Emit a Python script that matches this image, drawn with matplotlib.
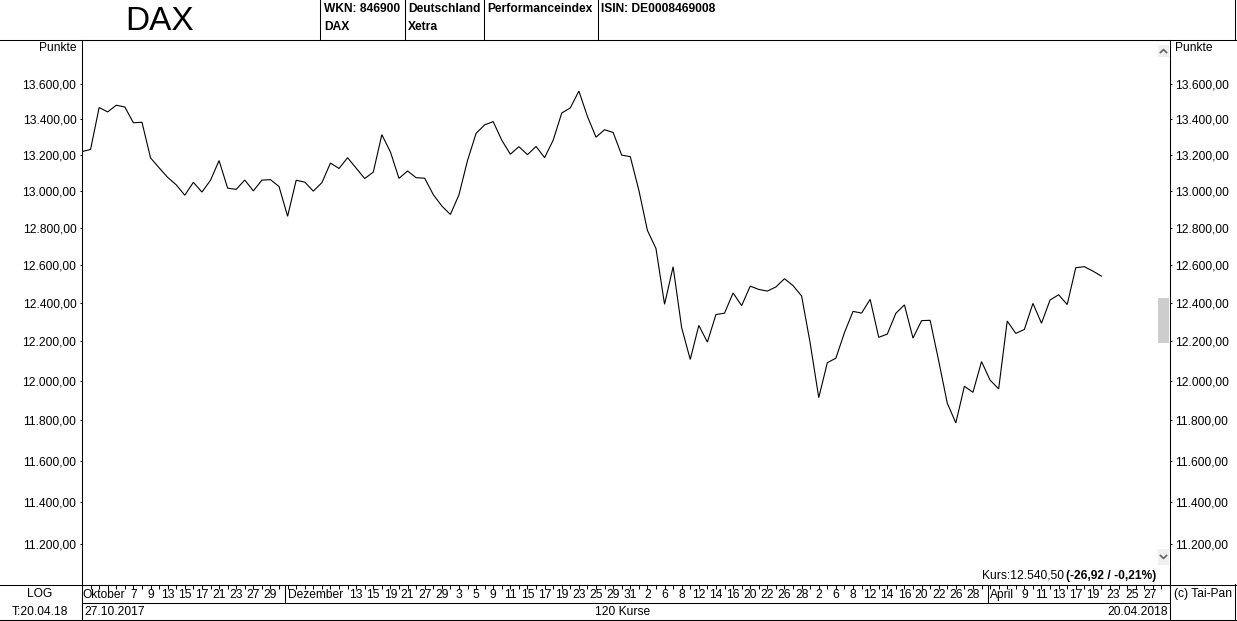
import numpy as np
import pandas as pd
import matplotlib
matplotlib.use("Agg")
import matplotlib.pyplot as plt
from matplotlib.lines import Line2D
from matplotlib.patches import Rectangle
from matplotlib.ticker import FixedLocator, FuncFormatter, NullLocator

plt.rcParams['font.family'] = ['Liberation Sans', 'DejaVu Sans']

# ---------------- data ----------------
first_date = "2017-10-27"
axis_end_date = "2018-04-27"
holidays = ["2017-10-31", "2017-12-25", "2017-12-26", "2018-01-01",
            "2018-03-30", "2018-04-02"]

closes = [
    13217.54, 13229.57, 13465.51, 13440.93, 13478.86, 13468.79, 13379.34, 13382.42,
    13182.56, 13127.47, 13074.42, 13033.48, 12976.37, 13047.22, 12993.73, 13058.66,
    13167.54, 13015.05, 13008.55, 13059.84, 13000.17, 13059.47, 13061.87, 13023.98,
    12861.49, 13058.55, 13048.54, 12998.85, 13045.15, 13153.70, 13123.65, 13183.53,
    13125.64, 13068.08, 13103.56, 13312.30, 13215.79, 13069.17, 13109.74, 13072.79,
    13070.02, 12979.94, 12917.64, 12871.39, 12978.21, 13167.89, 13319.64, 13367.78,
    13385.59, 13281.34, 13202.90, 13245.03, 13200.51, 13246.33, 13183.96, 13281.43,
    13434.45, 13463.69, 13559.60, 13414.74, 13298.36, 13340.17, 13324.48, 13197.71,
    13189.48, 13003.90, 12785.16, 12687.49, 12392.66, 12590.43, 12270.00, 12107.48,
    12282.77, 12196.50, 12339.16, 12346.17, 12451.96, 12385.60, 12487.90, 12470.49,
    12461.91, 12483.79, 12527.04, 12490.73, 12435.85, 12190.94, 11913.71, 12090.87,
    12113.87, 12245.36, 12355.57, 12346.68, 12418.39, 12221.03, 12237.74, 12345.56,
    12389.58, 12217.02, 12307.33, 12309.15, 12100.08, 11886.31, 11787.26, 11970.83,
    11940.71, 12096.73, 12002.26, 11957.90, 12305.36, 12241.27, 12261.75, 12397.32,
    12293.97, 12415.01, 12442.40, 12391.41, 12585.57, 12590.83, 12567.42, 12540.50,
]

y_tick_values = [11200, 11400, 11600, 11800, 12000, 12200, 12400,
                 12600, 12800, 13000, 13200, 13400, 13600]

month_label_dates = ["2017-10-27", "2017-12-01", "2018-04-03"]
month_label_texts = ["Oktober", "Dezember", "April"]

day_label_dates = [
    "2017-11-07", "2017-11-09", "2017-11-13", "2017-11-15", "2017-11-17",
    "2017-11-21", "2017-11-23", "2017-11-27", "2017-11-29",
    "2017-12-13", "2017-12-15", "2017-12-19", "2017-12-21", "2017-12-27", "2017-12-29",
    "2018-01-03", "2018-01-05", "2018-01-09", "2018-01-11", "2018-01-15", "2018-01-17",
    "2018-01-19", "2018-01-23", "2018-01-25", "2018-01-29", "2018-01-31",
    "2018-02-02", "2018-02-06", "2018-02-08", "2018-02-12", "2018-02-14", "2018-02-16",
    "2018-02-20", "2018-02-22", "2018-02-26", "2018-02-28",
    "2018-03-02", "2018-03-06", "2018-03-08", "2018-03-12", "2018-03-14", "2018-03-16",
    "2018-03-20", "2018-03-22", "2018-03-26", "2018-03-28",
    "2018-04-09", "2018-04-11", "2018-04-13", "2018-04-17", "2018-04-19",
]
# future (not yet traded) days shown at the right end of the date axis
future_label_dates = ["2018-04-23", "2018-04-25", "2018-04-27"]
future_label_slots = [120.4, 122.6, 124.7]

title = "DAX"
header_cells = [("WKN: 846900", "DAX"), ("Deutschland", "Xetra"),
                ("Performanceindex", ""), ("ISIN: DE0008469008", "")]
kurs_regular = "Kurs:12.540,50"
kurs_bold = "(-26,92 / -0,21%)"

# ---------------- layout ----------------
W, H, DPI = 1237, 621, 100
fig = plt.figure(figsize=(W / DPI, H / DPI), dpi=DPI, facecolor='white')

def fx(x):
    return x / W

def fy(y):
    return 1 - y / H

PL, PR, PT, PB = 82, 1170, 40, 585
ax = fig.add_axes([fx(PL), fy(PB), fx(PR) - fx(PL), fy(PT) - fy(PB)])

days = pd.bdate_range(first_date, axis_end_date)
days = days[~days.isin(pd.to_datetime(holidays))]
pos = {d.strftime("%Y-%m-%d"): i for i, d in enumerate(days)}

ax.plot(np.arange(len(closes)), closes, color='black', lw=0.8,
        solid_joinstyle='miter')

ax.set_yscale('log')
ax.set_ylim(11008, 13855)
ax.set_xlim(0, 127)

fmt = FuncFormatter(lambda v, p: f"{v:,.2f}".replace(",", "X").replace(".", ",").replace("X", "."))
ax.yaxis.set_major_locator(FixedLocator(y_tick_values))
ax.yaxis.set_major_formatter(fmt)
ax.yaxis.set_minor_locator(NullLocator())
ax.tick_params(axis='y', which='major', direction='out', length=1.5, width=0.75,
               labelsize=8.65, pad=2.5, left=True, right=True,
               labelleft=True, labelright=True, colors='black')

# x axis ticks and labels
xt_pos = ([pos[d] for d in month_label_dates] + [pos[d] for d in day_label_dates]
          + future_label_slots)
xt_lab = (month_label_texts + [str(int(d[-2:])) for d in day_label_dates]
          + [str(int(d[-2:])) for d in future_label_dates])
ax.set_xticks(xt_pos)
ax.set_xticklabels(xt_lab)
ax.xaxis.set_minor_locator(FixedLocator(np.arange(0, 128)))
ax.xaxis.remove_overlapping_locs = False
ax.tick_params(axis='x', which='minor', direction='out', length=3, width=0.75)
ax.tick_params(axis='x', which='major', direction='out', length=0, width=0.75,
               labelsize=8.65, pad=3.2)
for lbl in ax.get_xticklabels():
    if lbl.get_text() in month_label_texts:
        lbl.set_ha('left')

for s in ax.spines.values():
    s.set_linewidth(0.75)

# month separators in the date band
band_depth = (603 - PB) / (PB - PT)
sep_x = [pos[d] - 0.3 for d in month_label_dates[1:]]
ax.vlines(sep_x, -band_depth, 0, transform=ax.get_xaxis_transform(),
          color='black', lw=0.75, clip_on=False)

# ---------------- frame lines ----------------
def hline(y, x0, x1):
    fig.add_artist(Line2D([fx(x0), fx(x1)], [fy(y + 0.5)] * 2, color='black', lw=0.75))

def vline(x, y0, y1):
    fig.add_artist(Line2D([fx(x + 0.5)] * 2, [fy(y0), fy(y1)], color='black', lw=0.75))

hline(39, 0, W)
hline(584, 0, W)
hline(602, PL, PR)
hline(619, 0, W)
for xv in [320, 404, 483, 597]:
    vline(xv, 0, 39.5)
vline(1234, 0, 40)
vline(1234, 584, 621)
vline(PL - 1, 584, 621)
vline(PR - 1, 584, 621)

# ---------------- texts ----------------
fs = 8.65
fig.text(fx(160), fy(21), title, fontsize=24, ha='center', va='center')
cell_x = [324, 408, 487, 601]
for xv, (t1, t2) in zip(cell_x, header_cells):
    fig.text(fx(xv), fy(9), t1, fontsize=fs, fontweight='bold', ha='left', va='center')
    if t2:
        fig.text(fx(xv), fy(27), t2, fontsize=fs, fontweight='bold', ha='left', va='center')

fig.text(fx(77), fy(48), "Punkte", fontsize=fs, ha='right', va='center')
fig.text(fx(1175), fy(48), "Punkte", fontsize=fs, ha='left', va='center')
fig.text(fx(40), fy(594), "LOG", fontsize=fs, ha='center', va='center')
fig.text(fx(40), fy(612), "T:20.04.18", fontsize=fs, ha='center', va='center')
fig.text(fx(84), fy(612), "27.10.2017", fontsize=fs, ha='left', va='center')
fig.text(fx(623), fy(612), "120 Kurse", fontsize=fs, ha='center', va='center')
fig.text(fx(1168), fy(612), "20.04.2018", fontsize=fs, ha='right', va='center')
fig.text(fx(1174), fy(594), "(c) Tai-Pan", fontsize=fs, ha='left', va='center')
fig.text(fx(1064), fy(576), kurs_regular, fontsize=fs, ha='right', va='center')
fig.text(fx(1066), fy(576), kurs_bold, fontsize=fs, fontweight='bold', ha='left', va='center')

# ---------------- scroll widgets ----------------
fig.add_artist(Rectangle((fx(1158), fy(57)), fx(11), 12 / H, transform=fig.transFigure,
                         facecolor='#f0f0f0', edgecolor='none'))
fig.add_artist(Rectangle((fx(1158), fy(565)), fx(11), 16 / H, transform=fig.transFigure,
                         facecolor='#f0f0f0', edgecolor='none'))
fig.add_artist(Rectangle((fx(1158), fy(343)), fx(11), 45 / H, transform=fig.transFigure,
                         facecolor='#cdcdcd', edgecolor='none'))
fig.add_artist(Line2D([fx(1160.5), fx(1163.5), fx(1166.5)], [fy(52.5), fy(49.5), fy(52.5)],
                      color='#606060', lw=1.2))
fig.add_artist(Line2D([fx(1160.5), fx(1163.5), fx(1166.5)], [fy(555.5), fy(558.5), fy(555.5)],
                      color='#606060', lw=1.2))

fig.savefig("out.png", dpi=DPI, facecolor='white')
